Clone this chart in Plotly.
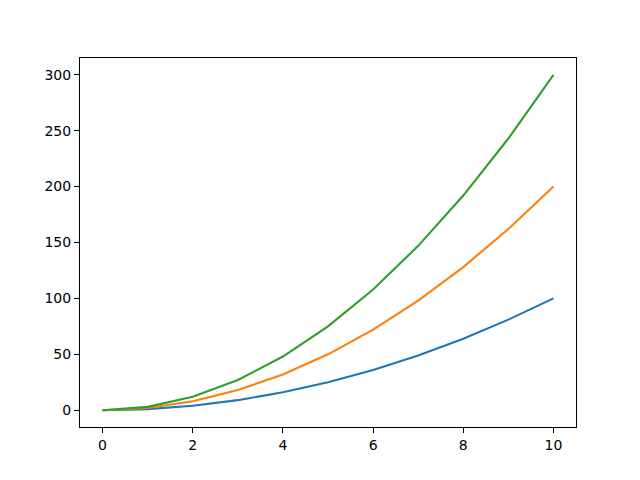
import plotly.graph_objects as go

x = [0, 1, 2, 3, 4, 5, 6, 7, 8, 9, 10]
blue = [0, 1, 4, 9, 16, 25, 36, 49, 64, 81, 100]
orange = [0, 2, 8, 18, 32, 50, 72, 98, 128, 162, 200]
green = [0, 3, 12, 27, 48, 75, 108, 147, 192, 243, 300]

x_ticks = [0, 2, 4, 6, 8, 10]
y_ticks = [0, 50, 100, 150, 200, 250, 300]

fig = go.Figure()
for ys, c in [(blue, "#1f77b4"), (orange, "#ff7f0e"), (green, "#2ca02c")]:
    fig.add_trace(go.Scatter(x=x, y=ys, mode="lines", line=dict(color=c, width=2.1), showlegend=False))

axis_common = dict(
    showgrid=False, zeroline=False, showline=True, linecolor="black", linewidth=1,
    mirror=True, ticks="outside", ticklen=5, tickwidth=1, tickcolor="black",
    tickfont=dict(family="DejaVu Sans", size=14, color="black"),
)
fig.update_xaxes(range=[-0.5, 10.5], tickvals=x_ticks, ticktext=[str(v) for v in x_ticks], **axis_common)
fig.update_yaxes(range=[-15, 315], tickvals=y_ticks, ticktext=[str(v) for v in y_ticks], **axis_common)

fig.update_layout(
    width=632, height=472,
    margin=dict(l=72, r=64, t=50, b=53),
    paper_bgcolor="white", plot_bgcolor="white",
)
fig.write_html("out.html")
